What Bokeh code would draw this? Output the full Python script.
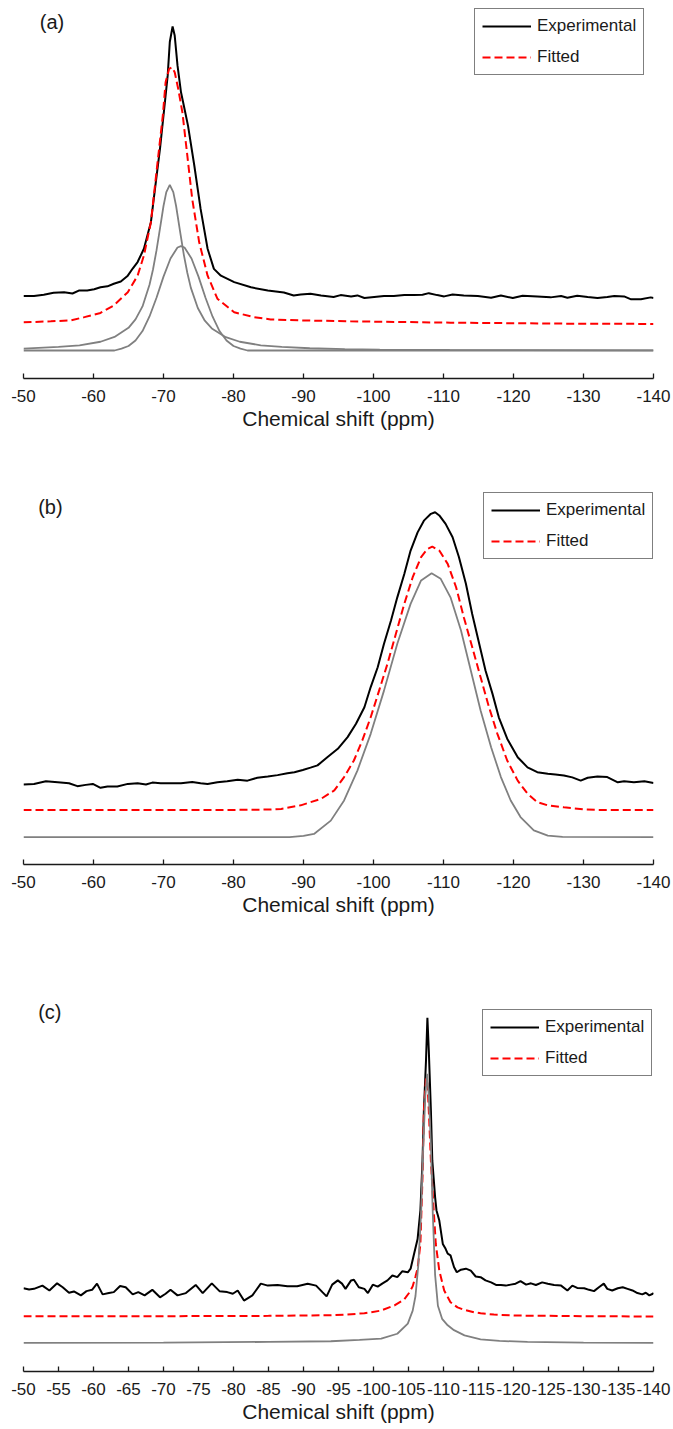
from bokeh.plotting import figure
from bokeh.models import Range1d, FixedTicker, Legend, LegendItem, Label
from bokeh.layouts import column
from bokeh.embed import file_html
from bokeh.resources import INLINE

# ---------------- data (chemical shift in ppm, intensity in arbitrary units) ----------------
ticks_10 = [-50, -60, -70, -80, -90, -100, -110, -120, -130, -140]
ticks_5 = [-50, -55, -60, -65, -70, -75, -80, -85, -90, -95, -100, -105,
           -110, -115, -120, -125, -130, -135, -140]

# (a)
a_exp_ppm = [-50.0, -51.5, -52.9, -54.3, -55.8, -57.0, -57.9, -59.1, -60.1, -61.0, -62.0, -62.9,
             -63.9, -64.9, -65.6, -66.3, -67.2, -68.2, -68.9, -69.5, -70.1, -70.6, -70.9, -71.3,
             -71.6, -72.0, -72.5, -72.9, -73.5, -74.4, -75.3, -76.3, -77.2, -78.2, -80.1, -82.5,
             -84.9, -87.2, -88.6, -89.6, -91.0, -92.5, -94.3, -95.3, -96.8, -97.7, -98.7, -100.1,
             -101.5, -102.9, -104.4, -105.8, -107.0, -107.9, -109.1, -110.1, -111.3, -112.9,
             -114.9, -116.8, -118.2, -119.9, -121.3, -123.4, -125.3, -126.8, -127.7, -129.1,
             -130.6, -132.0, -133.4, -134.4, -135.8, -136.8, -138.2, -139.6, -140.0]
a_exp_int = [16.8, 16.8, 17.2, 17.8, 18.0, 17.6, 18.5, 18.5, 18.9, 19.5, 19.8, 20.6,
             21.3, 23.1, 25.3, 27.3, 31.4, 39.6, 51.9, 62.3, 74.6, 84.9, 95.2, 100.0,
             97.2, 88.0, 79.7, 75.6, 69.4, 57.1, 43.7, 31.4, 25.2, 23.1, 21.1, 19.5,
             18.5, 17.9, 17.0, 17.3, 17.5, 17.0, 16.5, 17.1, 16.7, 17.0, 16.2, 16.5,
             16.8, 16.8, 17.1, 17.1, 17.2, 17.7, 17.1, 16.7, 17.3, 17.0,
             16.8, 16.3, 17.0, 16.2, 16.9, 16.7, 16.4, 16.8, 16.3, 16.9,
             16.5, 16.2, 16.5, 16.8, 16.7, 15.8, 15.8, 16.4, 16.2]

a_fit_ppm = [-50.0, -53.9, -56.8, -58.7, -61.0, -62.9, -64.9, -66.3, -67.2, -68.2, -69.1, -69.9,
             -70.3, -70.8, -71.2, -71.6, -72.1, -72.7, -73.4, -74.1, -75.1, -76.3, -77.7, -80.1,
             -82.9, -85.3, -89.6, -96.7, -111.0, -126.8, -140.0]
a_fit_int = [8.7, 9.0, 9.3, 10.3, 11.6, 13.9, 18.0, 23.1, 29.3, 39.6, 57.1, 72.5,
             82.8, 86.9, 87.4, 85.9, 80.8, 73.5, 60.2, 46.8, 33.4, 23.1, 16.0, 11.8,
             10.3, 9.6, 9.3, 9.0, 8.6, 8.3, 8.2]

a_q1_ppm = [-50.0, -55.0, -58.0, -61.0, -63.0, -65.0, -66.0, -67.0, -68.0, -68.5, -69.0, -69.5,
            -70.0, -70.4, -70.9, -71.4, -71.8, -72.4, -72.9, -73.4, -73.9, -74.9, -75.9, -76.9,
            -78.9, -80.9, -83.9, -86.9, -90.9, -95.9, -100.9, -110.9, -120.9, -140.0]
a_q1_int = [0.6, 1.1, 1.6, 2.7, 4.2, 7.0, 9.6, 13.6, 20.3, 25.0, 30.9, 37.7,
            44.6, 48.9, 51.1, 48.9, 44.6, 36.3, 29.6, 24.0, 19.4, 13.1, 9.2, 6.8,
            4.1, 2.7, 1.6, 1.1, 0.7, 0.45, 0.3, 0.18, 0.1, 0.06]

a_q2_ppm = [-50.0, -63.0, -64.0, -65.0, -66.0, -67.0, -68.0, -69.0, -70.0, -71.0, -72.0, -72.5,
            -73.0, -74.0, -75.0, -76.0, -77.0, -78.0, -79.0, -80.0, -81.0, -82.0, -140.0]
a_q2_int = [0.0, 0.0, 0.6, 1.4, 3.1, 6.0, 10.5, 16.3, 22.8, 28.4, 31.8, 32.2,
            31.8, 28.4, 22.8, 16.3, 10.5, 6.0, 3.1, 1.4, 0.6, 0.0, 0.0]

# (b)
b_exp_ppm = [-50.0, -51.5, -53.2, -54.9, -56.5, -57.7, -58.9, -59.9, -61.0, -62.0, -63.4, -64.9,
             -66.3, -67.5, -68.4, -69.6, -71.0, -72.5, -74.1, -75.3, -76.3, -77.7, -79.1, -80.6,
             -82.0, -83.4, -84.9, -86.3, -87.7, -88.7, -89.9, -91.0, -92.0, -93.4, -94.9, -96.3,
             -97.5, -98.7, -99.6, -100.6, -101.5, -102.5, -103.4, -104.4, -105.3, -106.3, -107.2,
             -108.2, -108.8, -109.4, -110.3, -111.3, -112.2, -113.2, -114.1, -115.1, -116.0,
             -117.0, -117.9, -119.1, -120.6, -122.0, -123.4, -124.9, -126.0, -127.2, -128.4,
             -129.6, -130.6, -132.0, -133.4, -134.9, -135.8, -137.2, -138.7, -140.0]
b_exp_int = [16.2, 16.4, 17.2, 16.9, 16.6, 15.7, 16.1, 16.4, 15.2, 15.6, 15.6, 16.4,
             16.6, 16.2, 16.8, 16.6, 16.6, 16.6, 17.0, 16.6, 16.4, 16.9, 17.2, 17.7,
             17.4, 18.3, 18.7, 19.1, 19.7, 20.0, 20.7, 21.4, 22.1, 24.6, 27.2, 30.8,
             34.9, 40.0, 46.2, 52.3, 59.5, 66.7, 73.8, 81.0, 88.2, 93.8, 97.4,
             99.5, 100.0, 99.0, 96.4, 92.3, 86.2, 78.0, 68.7, 59.5, 51.3,
             44.1, 36.9, 30.3, 24.6, 21.5, 20.0, 19.5, 19.3, 19.0, 18.4,
             17.4, 18.3, 18.7, 18.5, 16.9, 17.2, 16.9, 17.2, 16.7]

b_fit_ppm = [-50.0, -80.0, -84.9, -86.8, -89.6, -92.5, -94.4, -95.8, -97.2, -98.4, -99.6, -100.8,
             -102.0, -103.2, -104.4, -105.6, -106.8, -107.7, -108.4, -109.4, -110.6, -111.8,
             -112.9, -114.1, -115.3, -116.5, -117.7, -119.1, -120.6, -122.0, -123.4, -124.9,
             -127.2, -130.0, -132.0, -140.0]
b_fit_int = [8.4, 8.4, 8.5, 8.7, 9.8, 11.8, 14.4, 18.5, 23.6, 29.8, 36.9, 45.1,
             53.4, 62.6, 71.8, 80.0, 86.2, 88.7, 89.4, 88.2, 84.1, 76.9,
             67.7, 58.5, 49.2, 40.0, 31.8, 23.6, 17.4, 13.4, 10.8, 9.8,
             9.2, 8.6, 8.4, 8.4]

b_q1_ppm = [-50.0, -88.0, -90.0, -91.5, -93.9, -95.8, -97.7, -99.6, -101.5, -103.4, -105.3,
            -106.8, -108.3, -109.6, -111.0, -112.5, -113.9, -115.3, -116.8, -118.2, -119.6,
            -121.0, -122.9, -124.9, -127.0, -140.0]
b_q1_int = [0.0, 0.0, 0.4, 1.0, 5.1, 11.3, 20.5, 31.8, 45.1, 59.5, 71.8,
            79.0, 81.2, 79.5, 73.8, 63.6, 51.3, 39.0, 27.7, 18.5, 11.3,
            6.2, 2.1, 0.5, 0.1, 0.0]

# (c)
c_exp_ppm = [-50.0, -50.8, -51.5, -52.7, -53.7, -54.8, -55.6, -56.5, -57.2, -58.2, -59.0, -59.8,
             -60.5, -61.3, -62.2, -62.9, -63.8, -64.6, -65.6, -66.4, -67.3, -68.4, -69.5, -70.3,
             -71.0, -72.0, -73.2, -74.6, -75.6, -76.9, -78.0, -79.1, -79.9, -80.6, -81.5, -82.7,
             -83.9, -84.9, -86.3, -87.7, -89.1, -90.6, -91.8, -92.7, -93.3, -94.1, -94.9, -95.5,
             -96.0, -96.8, -97.2, -97.9, -98.7, -99.2, -99.9, -100.6, -101.3, -102.0, -102.7,
             -103.4, -104.1, -104.9, -105.3, -105.8, -106.3, -106.7, -107.0, -107.2, -107.5,
             -107.7, -107.9, -108.2, -108.4, -108.8, -109.0, -109.4, -109.9, -110.3, -110.6,
             -111.0, -111.5, -111.9, -112.5, -113.2, -113.9, -114.6, -115.3, -116.0, -116.8,
             -117.5, -118.2, -118.9, -119.6, -120.3, -121.0, -121.8, -122.5, -123.2, -124.1,
             -124.9, -125.8, -126.8, -127.7, -128.4, -129.1, -130.1, -130.8, -131.5, -132.2,
             -132.9, -133.4, -134.1, -134.9, -135.6, -136.3, -137.0, -137.7, -138.4, -138.9,
             -139.4, -139.9, -140.0]
c_exp_int = [16.9, 16.5, 16.7, 17.7, 16.2, 18.4, 17.2, 15.5, 15.9, 14.7, 16.0, 16.4,
             18.3, 15.0, 15.4, 15.7, 17.6, 17.2, 15.0, 15.7, 14.7, 16.4, 14.1, 15.2,
             16.4, 14.7, 15.4, 17.9, 15.4, 18.4, 16.0, 15.7, 15.2, 16.2, 13.1, 14.7,
             18.3, 17.7, 17.9, 17.5, 17.5, 18.3, 17.7, 15.7, 14.4, 18.0, 19.3, 18.3,
             16.7, 19.3, 19.5, 17.2, 16.7, 15.4, 18.0, 17.4, 18.4, 19.3, 20.8,
             20.3, 22.1, 21.8, 22.9, 27.5, 32.0, 40.8, 56.1, 71.5, 86.9,
             100.0, 90.0, 71.5, 56.1, 44.9, 40.8, 37.7, 30.5, 29.0, 27.5,
             27.0, 23.4, 21.8, 22.6, 22.9, 22.3, 20.5, 20.3, 19.3, 18.7,
             17.9, 17.9, 17.7, 18.0, 18.3, 19.1, 18.0, 18.4, 17.9, 18.7,
             18.3, 17.9, 17.7, 16.2, 17.7, 17.0, 16.9, 16.4, 16.0, 17.2,
             18.3, 16.7, 16.2, 16.9, 17.2, 16.7, 16.2, 15.4, 15.0, 15.5,
             14.7, 15.2, 15.5]

c_fit_ppm = [-50.0, -70.0, -85.0, -90.0, -93.9, -96.0, -98.7, -101.0, -103.0, -104.4, -105.1,
             -105.6, -106.0, -106.3, -106.7, -107.0, -107.2, -107.5, -107.7, -107.9, -108.2,
             -108.6, -108.9, -109.4, -110.1, -111.0, -112.0, -112.9, -114.4, -115.3, -117.2,
             -120.3, -130.0, -140.0]
c_fit_int = [8.3, 8.3, 8.4, 8.5, 8.6, 8.8, 9.2, 10.0, 11.6, 13.5, 15.5,
             17.5, 20.5, 23.0, 30.5, 51.0, 71.5, 81.3, 80.2, 71.5, 56.1,
             40.8, 30.5, 22.3, 16.2, 12.6, 11.0, 10.3, 9.5, 9.2, 8.8,
             8.5, 8.3, 8.2]

c_q1_ppm = [-50.0, -70.0, -85.0, -93.9, -98.0, -101.1, -103.4, -104.9, -105.6, -106.0, -106.4,
            -106.8, -107.1, -107.4, -107.65, -107.9, -108.2, -108.45, -108.8, -109.2, -109.8,
            -110.6, -111.5, -113.0, -115.3, -118.0, -122.0, -130.0, -140.0]
c_q1_int = [0.1, 0.2, 0.4, 0.6, 1.0, 1.4, 2.9, 6.0, 10.0, 14.5, 24.0,
            40.0, 60.0, 76.0, 82.8, 76.0, 61.0, 41.0, 21.0, 11.5, 7.5,
            5.5, 4.0, 2.4, 1.2, 0.7, 0.4, 0.2, 0.1]

FONT = "Liberation Sans"
INK = "#1a1a1a"
GRAY = "#808080"


def spectrum_panel(tag, ticks, y_lo, y_hi, height, border_bottom,
                   exp, fit, comps, legend_xy, tag_pos):
    p = figure(width=673, height=height,
               x_range=Range1d(-50, -140), y_range=Range1d(y_lo, y_hi),
               output_backend="svg", toolbar_location=None, y_axis_location=None,
               min_border_left=23, min_border_right=20, min_border_top=5,
               min_border_bottom=border_bottom)
    p.outline_line_color = None
    p.xgrid.visible = False
    p.ygrid.visible = False
    p.background_fill_color = "white"
    p.border_fill_color = "white"

    r_exp = p.line(exp[0], exp[1], line_color="black", line_width=2)
    r_fit = p.line(fit[0], fit[1], line_color="#ff0000", line_width=2, line_dash="8 4")
    for cx, cy in comps:
        p.line(cx, cy, line_color=GRAY, line_width=1.8)

    ax = p.xaxis[0]
    ax.ticker = FixedTicker(ticks=ticks)
    # plain hyphen-minus labels such as "-50"
    ax.major_label_overrides = {t: str(t) for t in ticks}
    ax.major_tick_in = 5
    ax.major_tick_out = 0
    ax.minor_tick_line_color = None
    ax.axis_line_color = INK
    ax.axis_line_width = 1.3
    ax.major_tick_line_color = INK
    ax.major_tick_line_width = 1.3
    ax.major_label_text_font = FONT
    ax.major_label_text_font_size = "17px"
    ax.major_label_text_color = INK
    ax.major_label_standoff = 11
    ax.axis_label = "Chemical shift (ppm)"
    ax.axis_label_text_font = FONT
    ax.axis_label_text_font_size = "21px"
    ax.axis_label_text_font_style = "normal"
    ax.axis_label_text_color = INK
    ax.axis_label_standoff = 2

    legend = Legend(items=[LegendItem(label="Experimental", renderers=[r_exp]),
                           LegendItem(label="Fitted", renderers=[r_fit])],
                    location=legend_xy, orientation="vertical")
    legend.border_line_color = "black"
    legend.border_line_width = 1.3
    legend.background_fill_color = "white"
    legend.background_fill_alpha = 1.0
    legend.label_text_font = FONT
    legend.label_text_font_size = "17px"
    legend.label_text_color = INK
    legend.padding = 7
    legend.spacing = 11
    legend.glyph_width = 49
    legend.glyph_height = 20
    legend.label_height = 20
    legend.label_standoff = 6
    legend.margin = 0
    p.add_layout(legend)

    p.add_layout(Label(x=tag_pos[0], y=tag_pos[1], text=tag, text_font=FONT,
                       text_font_size="20px", text_color=INK,
                       text_align="left", text_baseline="middle"))
    return p


pa = spectrum_panel("(a)", ticks_10, -8.64, 106.48, 486, 108,
                    (a_exp_ppm, a_exp_int), (a_fit_ppm, a_fit_int),
                    [(a_q1_ppm, a_q1_int), (a_q2_ppm, a_q2_int)],
                    (451, 303), (-52.33, 101.3))
pb = spectrum_panel("(b)", ticks_10, -8.4, 106.37, 486, 108,
                    (b_exp_ppm, b_exp_int), (b_fit_ppm, b_fit_int),
                    [(b_q1_ppm, b_q1_int)],
                    (460, 305), (-52.1, 101.5))
pc = spectrum_panel("(c)", ticks_5, -8.7, 112.4, 457, 58,
                    (c_exp_ppm, c_exp_int), (c_fit_ppm, c_fit_int),
                    [(c_q1_ppm, c_q1_int)],
                    (459, 295), (-52.1, 101.7))

page = column(pa, pb, pc, spacing=0)
open("out.html", "w").write(file_html(page, INLINE))
